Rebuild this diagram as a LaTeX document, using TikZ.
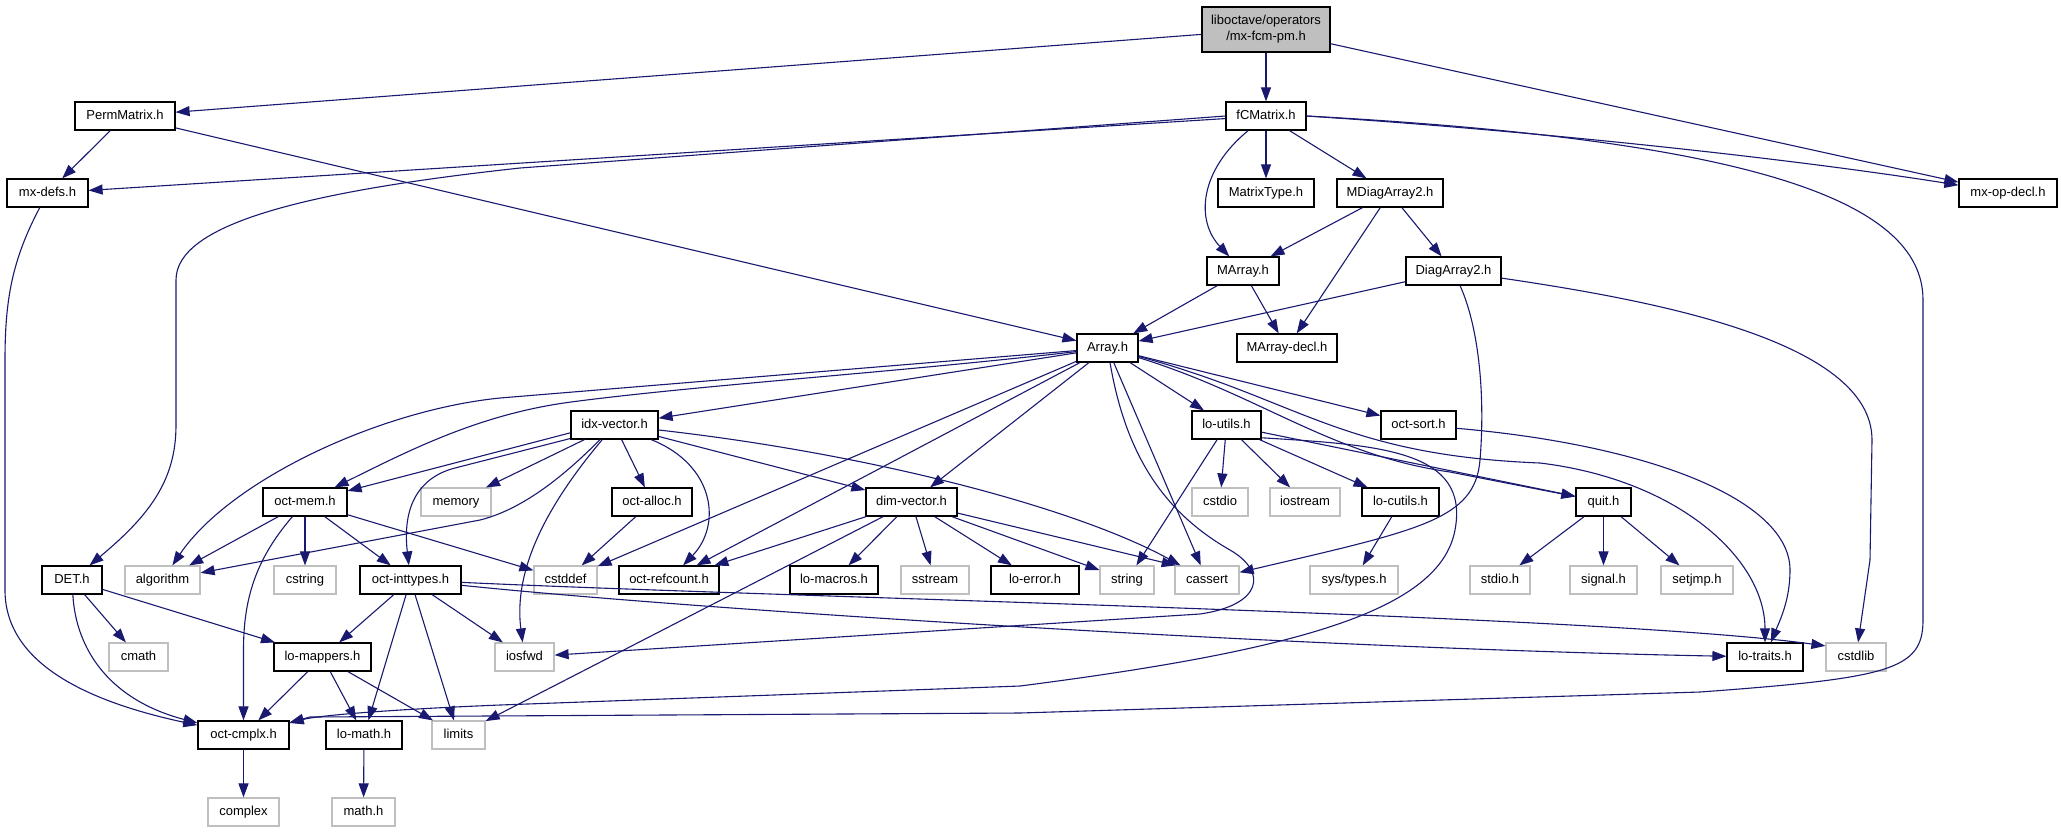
\documentclass[tikz,border=0pt]{standalone}
\usepackage{fontspec}
\setmainfont{Liberation Sans}
\usetikzlibrary{arrows.meta}
\definecolor{edgeblue}{HTML}{191970}
\definecolor{sysgray}{HTML}{BFBFBF}
\newcommand\lblfont{\fontsize{6.5pt}{8pt}\selectfont}
\begin{document}
\begin{tikzpicture}[x=0.5pt,y=-0.5pt,
  base/.style={draw=black, line width=0.6pt, fill=white, inner sep=0pt, font=\lblfont, text=black},
  box/.style={base, minimum height=14pt, text height=4.8pt, text depth=1.4pt},
  sysbox/.style={box, draw=sysgray},
  edge/.style={draw=edgeblue, line width=0.55pt, -{Triangle[length=7pt,width=5pt]}},
]
\fill[white] (0,0) rectangle (2061,832);
\useasboundingbox (0,0) rectangle (2061,832);

% nodes
\node[base, fill=sysgray, align=center, minimum width=64pt, minimum height=22.5pt] (root) at (1266,29.5) {liboctave/operators\\/mx-fcm-pm.h};
\node[box, minimum width=50pt] (perm) at (125,116) {PermMatrix.h};
\node[box, minimum width=40pt] (fcm) at (1266,116) {fCMatrix.h};
\node[box, minimum width=40.5pt] (mxdefs) at (47.5,193) {mx-defs.h};
\node[box, minimum width=48pt] (mtype) at (1266,193) {MatrixType.h};
\node[box, minimum width=53pt] (mdiag) at (1390,193) {MDiagArray2.h};
\node[box, minimum width=49pt] (mxop) at (2008,193) {mx-op-decl.h};
\node[box, minimum width=36pt] (marray) at (1243,271) {MArray.h};
\node[box, minimum width=47.5pt] (diag2) at (1453.5,271) {DiagArray2.h};
\node[box, minimum width=30.5pt] (array) at (1107.5,348) {Array.h};
\node[box, minimum width=50pt] (mdecl) at (1287,348) {MArray-decl.h};
\node[box, minimum width=43.5pt] (idxv) at (614.5,425) {idx-vector.h};
\node[box, minimum width=34.5pt] (loutils) at (1226.5,425) {lo-utils.h};
\node[box, minimum width=37.5pt] (osort) at (1418.5,425) {oct-sort.h};
\node[box, minimum width=42pt] (octmem) at (305,502) {oct-mem.h};
\node[sysbox, minimum width=35pt] (memory) at (456,502) {memory};
\node[box, minimum width=40pt] (octalloc) at (652,502) {oct-alloc.h};
\node[box, minimum width=45.5pt] (dimv) at (911.5,502) {dim-vector.h};
\node[sysbox, minimum width=28pt] (cstdio) at (1220,502) {cstdio};
\node[sysbox, minimum width=35pt] (iostream) at (1305,502) {iostream};
\node[box, minimum width=38.5pt] (locutils) at (1400.5,502) {lo-cutils.h};
\node[box, minimum width=27.5pt] (quit) at (1603.5,502) {quit.h};
\node[box, minimum width=30pt] (det) at (72,580) {DET.h};
\node[sysbox, minimum width=37.5pt] (algorithm) at (162.5,580) {algorithm};
\node[sysbox, minimum width=31pt] (cstring) at (305,580) {cstring};
\node[box, minimum width=50.5pt] (inttypes) at (410.5,580) {oct-inttypes.h};
\node[sysbox, minimum width=31.5pt] (cstddef) at (565.5,580) {cstddef};
\node[box, minimum width=50pt] (refcount) at (669,580) {oct-refcount.h};
\node[box, minimum width=44pt] (lomacros) at (834,580) {lo-macros.h};
\node[sysbox, minimum width=34pt] (sstream) at (935,580) {sstream};
\node[box, minimum width=44pt] (loerror) at (1035,580) {lo-error.h};
\node[sysbox, minimum width=27pt] (string) at (1127,580) {string};
\node[sysbox, minimum width=32pt] (cassert) at (1207,580) {cassert};
\node[sysbox, minimum width=44pt] (systypes) at (1354,580) {sys/types.h};
\node[sysbox, minimum width=30pt] (stdio) at (1500,580) {stdio.h};
\node[sysbox, minimum width=33.5pt] (signal) at (1603.5,580) {signal.h};
\node[sysbox, minimum width=36pt] (setjmp) at (1697,580) {setjmp.h};
\node[sysbox, minimum width=29.5pt] (cmath) at (138.5,657) {cmath};
\node[box, minimum width=48.5pt] (mappers) at (322.5,657) {lo-mappers.h};
\node[sysbox, minimum width=29.5pt] (iosfwd) at (524.5,657) {iosfwd};
\node[box, minimum width=38pt] (lotraits) at (1765,657) {lo-traits.h};
\node[sysbox, minimum width=30pt] (cstdlib) at (1856,657) {cstdlib};
\node[box, minimum width=45.5pt] (cmplx) at (243.5,735) {oct-cmplx.h};
\node[box, minimum width=38pt] (lomath) at (364,735) {lo-math.h};
\node[sysbox, minimum width=26.5pt] (limits) at (458.5,735) {limits};
\node[sysbox, minimum width=35.5pt] (complex) at (243.5,812) {complex};
\node[sysbox, minimum width=31.5pt] (mathh) at (363.5,812) {math.h};

% edges from root
\draw[edge] (root) -- (perm);
\draw[edge] (root) -- (fcm);
\draw[edge] (root) -- (mxop);
% PermMatrix
\draw[edge] (perm) -- (mxdefs);
\draw[edge] (perm) -- (array);
% fCMatrix
\draw[edge] (fcm) -- (mxdefs);
\draw[edge] (fcm.west) -- (520,168) .. controls (300,192) and (176,225) .. (176,280) -- (176,425) .. controls (176,480) and (150,515) .. (det);
\draw[edge] (fcm) .. controls (1200,170) and (1195,220) .. (marray);
\draw[edge] (fcm) -- (mtype);
\draw[edge] (fcm) -- (mdiag);
\draw[edge] (fcm.east) .. controls (1550,132) and (1800,160) .. (mxop);
\draw[edge] (fcm.east) .. controls (1750,140) and (1923,200) .. (1923,300) -- (1923,620) .. controls (1923,670) and (1890,678) .. (1700,692) -- (1020,713) -- (310,717) -- (cmplx);
% MDiagArray2 / MArray / DiagArray2
\draw[edge] (mdiag) -- (marray);
\draw[edge] (mdiag) -- (mdecl);
\draw[edge] (mdiag) -- (diag2);
\draw[edge] (marray) -- (array);
\draw[edge] (marray) -- (mdecl);
\draw[edge] (diag2) -- (array);
\draw[edge] (diag2) .. controls (1650,300) and (1872,340) .. (1872,440) -- (1870,560) -- (cstdlib);
\draw[edge] (diag2) .. controls (1480,330) and (1485,400) .. (1480,460) .. controls (1475,520) and (1420,530) .. (cassert);
% mx-defs, DET
\draw[edge] (mxdefs) .. controls (12,260) and (5,300) .. (5,360) -- (5,590) .. controls (5,660) and (80,700) .. (cmplx);
\draw[edge] (det) -- (cmath);
\draw[edge] (det) -- (mappers);
\draw[edge] (det) .. controls (76,650) and (110,700) .. (cmplx);
% Array.h
\draw[edge] (array) -- (idxv);
\draw[edge] (array) .. controls (900,372) and (700,385) .. (571,402) .. controls (480,414) and (410,450) .. (octmem);
\draw[edge] (array) -- (500,398) .. controls (380,410) and (230,480) .. (algorithm);
\draw[edge] (array) -- (cstddef);
\draw[edge] (array) -- (refcount);
\draw[edge] (array) -- (dimv);
\draw[edge] (array) -- (loutils);
\draw[edge] (array) -- (osort);
\draw[edge] (array) .. controls (1260,395) and (1330,455) .. (1450,472) -- (quit);
\draw[edge] (array) .. controls (1300,400) and (1340,455) .. (1540,463) .. controls (1680,480) and (1765,560) .. (lotraits);
\draw[edge] (array) -- (cassert);
\draw[edge] (array) .. controls (1125,450) and (1160,510) .. (1230,550) .. controls (1268,572) and (1262,605) .. (1200,614) -- (iosfwd);
% oct-sort
\draw[edge] (osort) .. controls (1650,445) and (1790,500) .. (1790,570) .. controls (1790,600) and (1780,620) .. (lotraits);
% lo-utils
\draw[edge] (loutils) -- (string);
\draw[edge] (loutils) -- (cstdio);
\draw[edge] (loutils) -- (iostream);
\draw[edge] (loutils) -- (locutils);
\draw[edge] (loutils) -- (quit);
\draw[edge] (loutils.-20) .. controls (1380,445) and (1470,450) .. (1455,530) .. controls (1440,610) and (1300,650) .. (1020,686) -- (500,705) .. controls (400,709) and (320,715) .. (cmplx);
% idx-vector
\draw[edge] (idxv.-170) -- (octmem);
\draw[edge] (idxv.-163) -- (455,468) .. controls (420,477) and (402,505) .. (inttypes);
\draw[edge] (idxv) -- (memory);
\draw[edge] (idxv) .. controls (560,480) and (520,510) .. (480,520) -- (algorithm);
\draw[edge] (idxv) .. controls (560,490) and (512,560) .. (iosfwd);
\draw[edge] (idxv) -- (octalloc);
\draw[edge] (idxv) .. controls (715,465) and (722,525) .. (refcount);
\draw[edge] (idxv) -- (dimv);
\draw[edge] (idxv) .. controls (880,455) and (1080,510) .. (cassert);
% oct-alloc, oct-mem
\draw[edge] (octalloc) -- (cstddef);
\draw[edge] (octmem) -- (algorithm);
\draw[edge] (octmem) .. controls (255,560) and (243.5,600) .. (243.5,650) -- (cmplx);
\draw[edge] (octmem) -- (cstring);
\draw[edge] (octmem) -- (inttypes);
\draw[edge] (octmem) -- (cstddef);
% oct-inttypes
\draw[edge] (inttypes) -- (mappers);
\draw[edge] (inttypes) -- (lomath);
\draw[edge] (inttypes) -- (limits);
\draw[edge] (inttypes) -- (iosfwd);
\draw[edge] (inttypes) .. controls (700,610) and (1300,648) .. (lotraits);
\draw[edge] (inttypes) .. controls (800,598) and (1600,615) .. (cstdlib.160);
% lo-mappers, lo-math, oct-cmplx
\draw[edge] (mappers) -- (cmplx);
\draw[edge] (mappers) -- (lomath);
\draw[edge] (mappers) -- (limits);
\draw[edge] (lomath) -- (mathh);
\draw[edge] (cmplx) -- (complex);
% dim-vector
\draw[edge] (dimv) -- (refcount);
\draw[edge] (dimv) -- (limits);
\draw[edge] (dimv) -- (lomacros);
\draw[edge] (dimv) -- (sstream);
\draw[edge] (dimv) -- (loerror);
\draw[edge] (dimv) -- (string);
\draw[edge] (dimv) -- (cassert.155);
% lo-cutils, quit
\draw[edge] (locutils) -- (systypes);
\draw[edge] (quit) -- (stdio);
\draw[edge] (quit) -- (signal);
\draw[edge] (quit) -- (setjmp);
\end{tikzpicture}
\end{document}
